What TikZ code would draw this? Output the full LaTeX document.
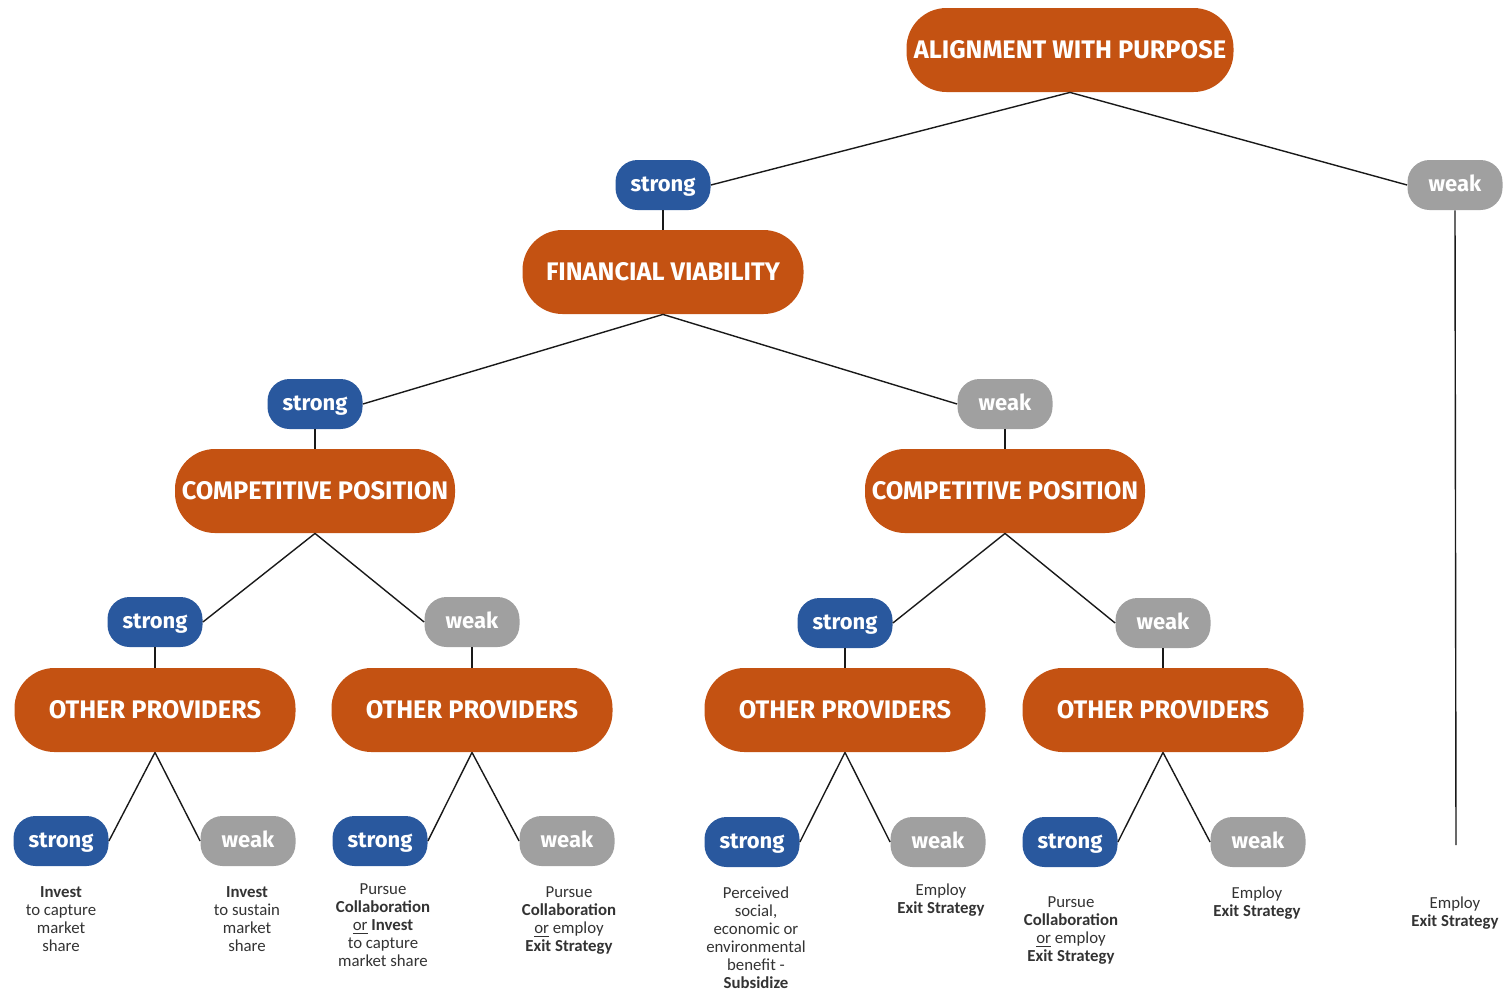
\documentclass[tikz,border=0pt]{standalone}
\usepackage{fontspec}
\setmainfont{Carlito}
\newfontfamily\headfont{Fira Sans}
\definecolor{provorange}{RGB}{196,82,18}
\definecolor{strongblue}{RGB}{41,88,158}
\definecolor{weakgray}{RGB}{160,160,160}
\begin{document}
\begin{tikzpicture}[x=0.5pt, y=-0.5pt,
  head/.style={fill=provorange, text=white, rounded corners=20pt, minimum height=42pt, inner sep=2pt, font=\headfont\bfseries\fontsize{12.7}{14}\selectfont},
  strongbox/.style={fill=strongblue, text=white, rounded corners=11pt, minimum width=47.5pt, minimum height=25pt, inner sep=1pt, text height=1.9ex, text depth=0.45ex, font=\headfont\bfseries\fontsize{11}{12}\selectfont},
  weakbox/.style={strongbox, fill=weakgray},
  advice/.style={align=center, anchor=north, inner sep=0pt, text=black!80, font=\fontsize{8.4}{9}\selectfont},
  link/.style={draw=black!90, line width=0.7pt}]
\useasboundingbox (0,0) rectangle (1512,993);

\node[head, minimum width=163.5pt] (align) at (1070,50) {ALIGNMENT WITH PURPOSE};
\node[strongbox] (alignS) at (663,185) {strong};
\node[weakbox] (alignW) at (1455,185) {weak};
\coordinate (exitEnd) at (1456,845);

\node[head, minimum width=140.5pt] (finance) at (663,272) {FINANCIAL VIABILITY};
\node[strongbox] (finS) at (315,404) {strong};
\node[weakbox] (finW) at (1005,404) {weak};

\node[head, minimum width=140pt] (compL) at (315,491) {COMPETITIVE POSITION};
\node[head, minimum width=140pt] (compR) at (1005,491) {COMPETITIVE POSITION};
\node[strongbox] (compLS) at (155,622) {strong};
\node[weakbox] (compLW) at (472,622) {weak};
\node[strongbox] (compRS) at (845,623) {strong};
\node[weakbox] (compRW) at (1163,623) {weak};

\node[head, minimum width=140.5pt] (provA) at (155,710) {OTHER PROVIDERS};
\node[head, minimum width=140.5pt] (provB) at (472,710) {OTHER PROVIDERS};
\node[head, minimum width=140.5pt] (provC) at (845,710) {OTHER PROVIDERS};
\node[head, minimum width=140.5pt] (provD) at (1163,710) {OTHER PROVIDERS};

\node[strongbox] (provAS) at (61,841) {strong};
\node[weakbox] (provAW) at (248,841) {weak};
\node[strongbox] (provBS) at (380,841) {strong};
\node[weakbox] (provBW) at (567,841) {weak};
\node[strongbox] (provCS) at (752,842) {strong};
\node[weakbox] (provCW) at (938,842) {weak};
\node[strongbox] (provDS) at (1070,842) {strong};
\node[weakbox] (provDW) at (1258,842) {weak};

\draw[link] (align.south) -- (alignS.east);
\draw[link] (align.south) -- (alignW.west);
\draw[link] (alignS.south) -- (finance.north);
\draw[link] (alignW.south) -- (exitEnd);
\draw[link] (finance.south) -- (finS.east);
\draw[link] (finance.south) -- (finW.west);
\draw[link] (finS.south) -- (compL.north);
\draw[link] (finW.south) -- (compR.north);
\draw[link] (compL.south) -- (compLS.east);
\draw[link] (compL.south) -- (compLW.west);
\draw[link] (compR.south) -- (compRS.east);
\draw[link] (compR.south) -- (compRW.west);
\draw[link] (compLS.south) -- (provA.north);
\draw[link] (compLW.south) -- (provB.north);
\draw[link] (compRS.south) -- (provC.north);
\draw[link] (compRW.south) -- (provD.north);
\draw[link] (provA.south) -- (provAS.east);
\draw[link] (provA.south) -- (provAW.west);
\draw[link] (provB.south) -- (provBS.east);
\draw[link] (provB.south) -- (provBW.west);
\draw[link] (provC.south) -- (provCS.east);
\draw[link] (provC.south) -- (provCW.west);
\draw[link] (provD.south) -- (provDS.east);
\draw[link] (provD.south) -- (provDW.west);

\node[advice] (adviceAS) at (61,886) {\textbf{Invest}\\to capture\\market\\share};
\node[advice] (adviceAW) at (247,886) {\textbf{Invest}\\to sustain\\market\\share};
\node[advice] (adviceBS) at (383,883) {Pursue\\\textbf{Collaboration}\\\underline{or} \textbf{Invest}\\to capture\\market share};
\node[advice] (adviceBW) at (569,886) {Pursue\\\textbf{Collaboration}\\\underline{or} employ\\\textbf{Exit Strategy}};
\node[advice] (adviceCS) at (756,886) {Perceived\\social,\\economic or\\environmental\\benefit -\\\textbf{Subsidize}};
\node[advice] (adviceCW) at (941,883) {Employ\\\textbf{Exit Strategy}};
\node[advice] (adviceDS) at (1071,896) {Pursue\\\textbf{Collaboration}\\\underline{or} employ\\\textbf{Exit Strategy}};
\node[advice] (adviceDW) at (1257,886) {Employ\\\textbf{Exit Strategy}};
\node[advice] (exitNote) at (1455,896) {Employ\\\textbf{Exit Strategy}};
\end{tikzpicture}
\end{document}
